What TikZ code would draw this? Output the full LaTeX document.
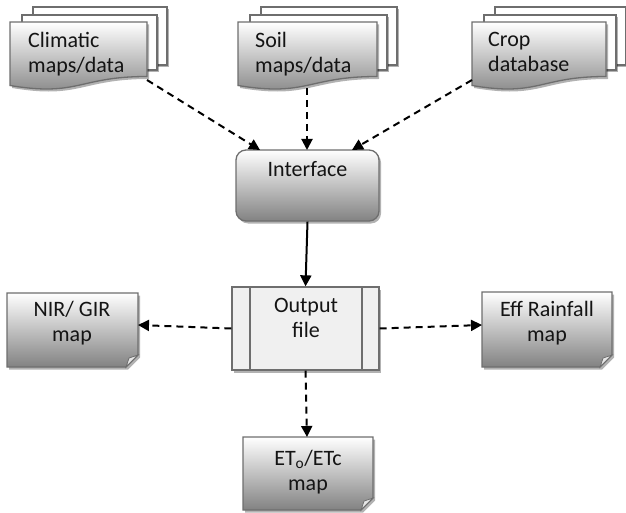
\documentclass[tikz,border=0pt]{standalone}
\usepackage{fontspec}
\setmainfont{Carlito}
\usetikzlibrary{arrows.meta,shadows,calc}
\definecolor{bord}{HTML}{6E6E6E}
\definecolor{shadeb}{HTML}{828282}
\definecolor{outfill}{HTML}{F0F0F0}
\definecolor{foldc}{HTML}{E6E6E6}
\newcommand\mdoc[2]{%
 \path[shad, fill=white, bordline] ({#1+23},7) rectangle ({#2+20},65);
 \path[shad, fill=white, bordline] ({#1+12},15) rectangle ({#2+10},70);
 \path[shad, gradfill, bordline] (#1,22) -- (#2,22) -- (#2,76.5)
   .. controls ({(#1+#2)/2},76.5) and ({(#1+#2)/2},97) .. (#1,85.5) -- cycle;}
\newcommand\fdoc[4]{%
 \path[shad, gradfill, bordline] (#1,#2) -- (#3,#2) -- (#3,{#4-12}) -- ({#3-12},#4) -- (#1,#4) -- cycle;
 \path[fill=foldc, bordline, line width=0.8pt] (#3,{#4-12}) -- ({#3-9},{#4-9}) -- ({#3-12},#4) -- cycle;}
\begin{document}
\begin{tikzpicture}[x=1pt,y=-1pt,
  bordline/.style={draw=bord, line width=1.3pt},
  shad/.style={drop shadow={shadow xshift=2pt, shadow yshift=-2.5pt, opacity=0.3, fill=black}},
  gradfill/.style={top color=white, bottom color=shadeb},
  lbl/.style={font=\fontsize{22}{25.5}\selectfont, text=black!92, inner sep=0pt},
  dasharrow/.style={line width=2pt, dash pattern=on 7pt off 5pt, -{Triangle[length=11pt,width=11pt]}},
  solidarrow/.style={line width=2pt, -{Triangle[length=11pt,width=11pt]}}]
\useasboundingbox (0,0) rectangle (626,513);
% multi-document inputs
\mdoc{10}{147}
\mdoc{238}{377}
\mdoc{472}{606}
\node[lbl, align=left, anchor=north west] (climT) at (28,32) {Climatic\\maps/data};
\node[lbl, align=left, anchor=north west] (soilT) at (255,32) {Soil\\maps/data};
\node[lbl, align=left, anchor=north west] (cropT) at (488,32) {Crop\\database};
\coordinate (climO) at (147,80);
\coordinate (soilO) at (307,88);
\coordinate (cropO) at (472,80);
% interface
\node[shad, gradfill, bordline, rounded corners=10pt, minimum width=143pt, minimum height=71pt] (iface) at (307.5,185.5) {};
\node[lbl] (ifaceT) at (307.5,169.5) {Interface};
\coordinate (inA) at (260,150);
\coordinate (inB) at (307,150);
\coordinate (inC) at (352,150);
% output file
\node[shad, fill=outfill, bordline, minimum width=147pt, minimum height=83pt] (out) at (305.5,328.5) {};
\draw[bordline] (250,287) -- (250,370);
\draw[bordline] (362,287) -- (362,370);
\node[lbl, align=center] (outT) at (306,318) {Output\\file};
% output maps
\fdoc{7}{293}{138}{367}
\fdoc{482}{292}{612}{367}
\fdoc{243}{437}{373}{510}
\coordinate (nirI) at (138,325);
\coordinate (effI) at (482,325);
\coordinate (etI) at (307,437);
\node[lbl, align=center] (nirT) at (72,323) {NIR/ GIR\\map};
\node[lbl, align=center] (effT) at (547,323) {Eff Rainfall\\map};
\node[lbl, align=center] (etT) at (308,472) {ET\textsubscript{o}/ETc\\map};
% connectors
\draw[dasharrow] (climO) -- (inA);
\draw[dasharrow] (soilO) -- (inB);
\draw[dasharrow] (cropO) -- (inC);
\draw[solidarrow] (iface.south) -- (out.north);
\draw[dasharrow] (out.west) -- (nirI);
\draw[dasharrow] (out.east) -- (effI);
\draw[dasharrow] (out.south) -- (etI);
\end{tikzpicture}
\end{document}
